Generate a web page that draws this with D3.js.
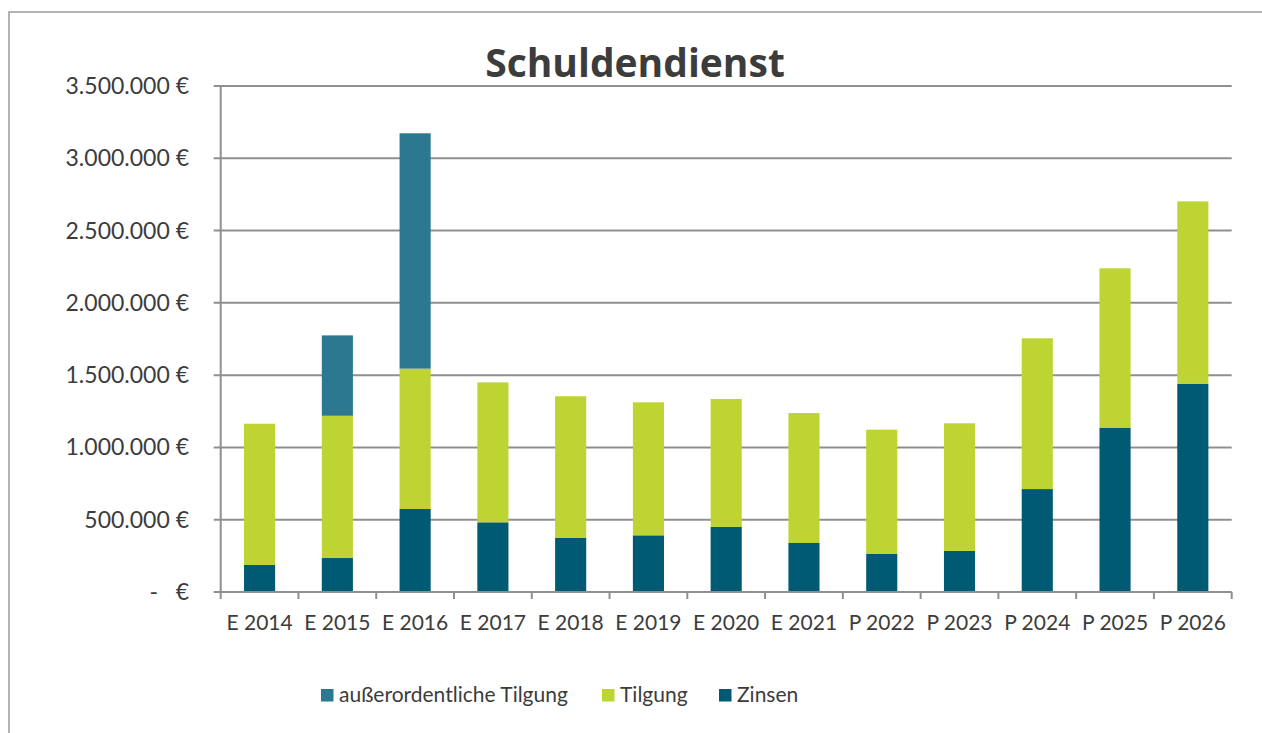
<!DOCTYPE html>
<html>
<head>
<meta charset="utf-8">
<script src="https://cdn.jsdelivr.net/npm/d3@7"></script>
<style>
  body { margin: 0; background: #fff; }
  svg { display: block; }
  text { font-family: Lato, "Open Sans", sans-serif; fill: #3c3c3c; }
</style>
</head>
<body>
<svg id="chart" width="1262" height="733"></svg>
<script>
var categories = ["E 2014", "E 2015", "E 2016", "E 2017", "E 2018", "E 2019", "E 2020",
                  "E 2021", "P 2022", "P 2023", "P 2024", "P 2025", "P 2026"];
var zinsen  = [187000, 235000, 574000, 482000, 376000, 392000, 450000, 339000, 263000, 284000, 712000, 1137000, 1441000];
var tilgung = [977000, 984000, 971000, 968000, 978000, 920000, 885000, 899000, 860000, 883000, 1043000, 1102000, 1261000];
var aoTilgung = [0, 556000, 1628000, 0, 0, 0, 0, 0, 0, 0, 0, 0, 0];
var yTicks = [0, 500000, 1000000, 1500000, 2000000, 2500000, 3000000, 3500000];
var seriesNames = ["außerordentliche Tilgung", "Tilgung", "Zinsen"];

(function(){
var colors = { ao: "#2d7891", tilgung: "#bed432", zinsen: "#005a73" };

var svg = d3.select("#chart");
var plotLeft = 220.7, plotRight = 1231.7, plotTop = 86, plotBottom = 592;

// outer frame
svg.append("rect")
    .attr("x", 9).attr("y", 12)
    .attr("width", 1280).attr("height", 760)
    .attr("fill", "none")
    .attr("stroke", "#9a9a9a")
    .attr("stroke-width", 1.5);

var x = d3.scaleBand().domain(categories).range([plotLeft, plotRight]).paddingInner(0).paddingOuter(0);
var y = d3.scaleLinear().domain([0, 3500000]).range([plotBottom, plotTop]);

// gridlines
svg.append("g").selectAll("line")
    .data(yTicks.slice(1))
    .join("line")
    .attr("x1", plotLeft - 7).attr("x2", plotRight)
    .attr("y1", function(d){ return y(d); })
    .attr("y2", function(d){ return y(d); })
    .attr("stroke", "#8f8f8f")
    .attr("stroke-width", 2);

// y labels
var fmt = function(d){
    return d3.format(",")(d).replace(/,/g, ".") + " €";
};
var yl = svg.append("g");
yTicks.forEach(function(d){
    if (d === 0) {
        yl.append("text").attr("x", 189).attr("y", y(d)).attr("dy", "0.35em")
            .attr("text-anchor", "end").style("font-size", "23px").text("€");
        yl.append("text").attr("x", 158).attr("y", y(d)).attr("dy", "0.35em")
            .attr("text-anchor", "end").style("font-size", "23px").text("-");
    } else {
        yl.append("text").attr("x", 189).attr("y", y(d)).attr("dy", "0.35em")
            .attr("text-anchor", "end").style("font-size", "23px").text(fmt(d));
    }
});

// stacked bars
var rows = categories.map(function(c, i){
    return { cat: c, zinsen: zinsen[i], tilgung: tilgung[i], ao: aoTilgung[i] };
});
var series = d3.stack().keys(["zinsen", "tilgung", "ao"])(rows);
var barW = x.bandwidth() * 0.4;

svg.append("g").selectAll("g")
    .data(series)
    .join("g")
    .attr("fill", function(s){ return colors[s.key]; })
    .selectAll("rect")
    .data(function(s){ return s.filter(function(d){ return d[1] - d[0] > 0; }); })
    .join("rect")
    .attr("x", function(d){ return x(d.data.cat) + (x.bandwidth() - barW) / 2; })
    .attr("y", function(d){ return y(d[1]); })
    .attr("width", barW)
    .attr("height", function(d){ return y(d[0]) - y(d[1]); });

// axes lines
svg.append("line")
    .attr("x1", plotLeft).attr("x2", plotLeft).attr("y1", plotTop).attr("y2", plotBottom + 7)
    .attr("stroke", "#8f8f8f").attr("stroke-width", 2);
svg.append("line")
    .attr("x1", plotLeft - 7).attr("x2", plotRight).attr("y1", plotBottom).attr("y2", plotBottom)
    .attr("stroke", "#8f8f8f").attr("stroke-width", 2);

// x ticks between categories
var bounds = categories.map(function(c){ return x(c); }).concat([plotRight]);
svg.append("g").selectAll("line")
    .data(bounds.slice(1))
    .join("line")
    .attr("x1", function(d){ return d; }).attr("x2", function(d){ return d; })
    .attr("y1", plotBottom).attr("y2", plotBottom + 7)
    .attr("stroke", "#8f8f8f").attr("stroke-width", 2);

// x labels
svg.append("g").selectAll("text")
    .data(categories)
    .join("text")
    .attr("x", function(d){ return x(d) + x.bandwidth() / 2; })
    .attr("y", 630)
    .attr("text-anchor", "middle")
    .style("font-size", "21px")
    .text(function(d){ return d; });

// title
svg.append("text")
    .attr("x", 635).attr("y", 77)
    .attr("text-anchor", "middle")
    .style("font-family", "'Open Sans', sans-serif")
    .style("font-size", "39px")
    .style("font-weight", "bold")
    .text("Schuldendienst");

// legend
var legendX = [321, 602, 719];
var legendColors = [colors.ao, colors.tilgung, colors.zinsen];
var lg = svg.append("g");
seriesNames.forEach(function(n, i){
    lg.append("rect")
        .attr("x", legendX[i]).attr("y", 689)
        .attr("width", 12.5).attr("height", 12.5)
        .attr("fill", legendColors[i]);
    lg.append("text")
        .attr("x", legendX[i] + 18).attr("y", 702)
        .style("font-size", "21px")
        .text(n);
});
})();
</script>
</body>
</html>
